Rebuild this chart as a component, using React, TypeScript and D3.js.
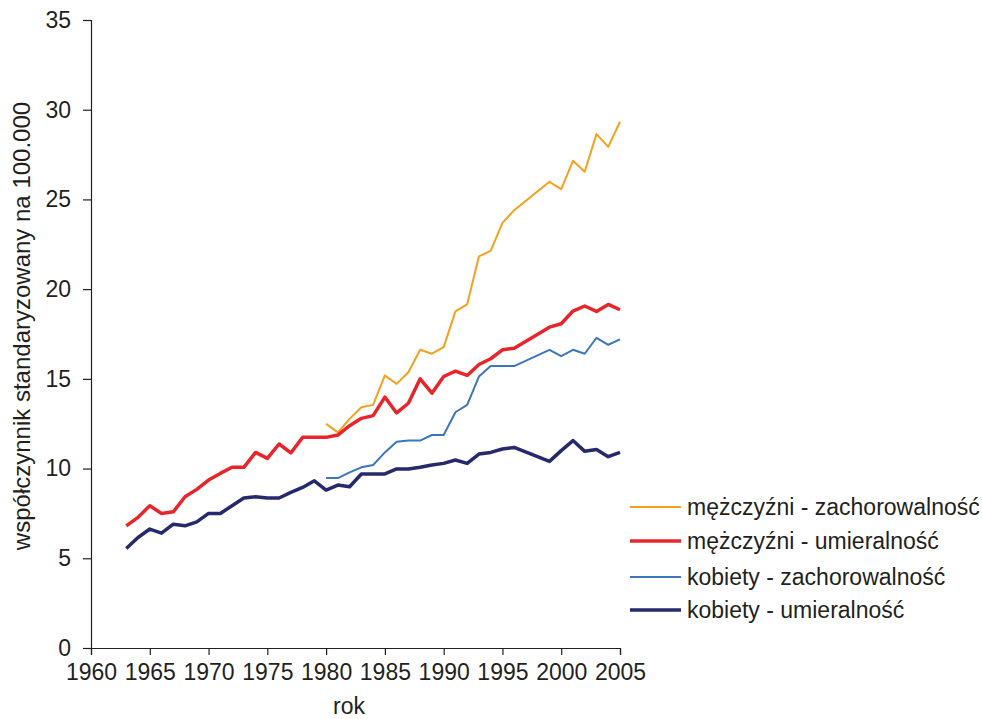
import React, { useEffect, useRef } from 'react';
import * as d3 from 'd3';

const years = d3.range(1963, 2006);

// values per year 1963..2005, null = no data
const menIncidence = [
  null, null, null, null, null, null, null, null, null, null, null, null, null, null, null, null, null,
  12.49, 12.02, 12.77, 13.42, 13.55, 15.19, 14.72, 15.37, 16.62, 16.4, 16.77, 18.76, 19.15, 21.83, 22.13,
  23.69, 24.4, null, null, 25.98, 25.57, 27.15, 26.54, 28.64, 27.93, 29.33,
];
const menMortality = [
  6.81, 7.28, 7.93, 7.5, 7.59, 8.43, 8.84, 9.36, 9.73, 10.07, 10.07, 10.9, 10.57, 11.37, 10.87, 11.74, 11.74,
  11.74, 11.87, 12.39, 12.8, 12.95, 13.98, 13.1, 13.64, 15.0, 14.2, 15.13, 15.43, 15.19, 15.8, 16.12,
  16.62, 16.71, null, null, 17.88, 18.07, 18.78, 19.06, 18.76, 19.15, 18.85,
];
const womenIncidence = [
  null, null, null, null, null, null, null, null, null, null, null, null, null, null, null, null, null,
  9.47, 9.47, 9.79, 10.07, 10.2, 10.9, 11.5, 11.56, 11.56, 11.87, 11.87, 13.14, 13.55, 15.13, 15.71,
  15.71, 15.71, null, null, 16.62, 16.27, 16.62, 16.4, 17.29, 16.9, 17.2,
];
const womenMortality = [
  5.55, 6.16, 6.63, 6.4, 6.9, 6.81, 7.03, 7.5, 7.5, 7.93, 8.36, 8.43, 8.36, 8.36, 8.67, 8.95, 9.32,
  8.8, 9.08, 8.99, 9.7, 9.7, 9.7, 9.98, 9.98, 10.07, 10.2, 10.29, 10.48, 10.29, 10.81, 10.9,
  11.09, 11.18, null, null, 10.4, 11.0, 11.56, 10.96, 11.06, 10.66, 10.9,
];

const seriesNames = [
  'mężczyźni - zachorowalność',
  'mężczyźni - umieralność',
  'kobiety - zachorowalność',
  'kobiety - umieralność',
];
const seriesValues = [menIncidence, menMortality, womenIncidence, womenMortality];
const seriesColors = ['#F6A01F', '#E8252B', '#3C76BE', '#262A6C'];
const seriesWidths = [2, 3.5, 2, 3.5];

const xTicks = d3.range(1960, 2006, 5);
const yTicks = d3.range(0, 36, 5);

const W = 982;
const H = 719;
const FONT = '"Liberation Sans", Arial, sans-serif';

export default function App() {
  const ref = useRef<SVGSVGElement>(null);

  useEffect(() => {
    const svg = d3.select(ref.current);
    svg.selectAll('*').remove();

    const x = d3.scaleLinear().domain([1960, 2005]).range([91, 620]);
    const y = d3.scaleLinear().domain([0, 35]).range([648, 20]);

    // axes
    const gx = svg.append('g').attr('transform', 'translate(0,648)');
    gx.call(d3.axisBottom(x).tickValues(xTicks).tickFormat(d3.format('d')).tickSize(7).tickPadding(9));
    const gy = svg.append('g').attr('transform', 'translate(91,0)');
    gy.call(d3.axisLeft(y).tickValues(yTicks).tickSize(8).tickPadding(12));

    [gx, gy].forEach((g) => {
      g.select('.domain').attr('stroke', '#231F20').attr('stroke-width', 1.2);
      g.selectAll('.tick line').attr('stroke', '#231F20').attr('stroke-width', 1.2);
      g.selectAll('.tick text')
        .attr('fill', '#231F20')
        .style('font-family', FONT)
        .style('font-size', '23px');
    });

    // lines
    const line = d3
      .line<[number, number]>()
      .x((d) => x(d[0]))
      .y((d) => y(d[1]))
      .curve(d3.curveLinear);

    seriesValues.forEach((vals, i) => {
      const pts = years
        .map((yr, j) => [yr, vals[j]] as [number, number | null])
        .filter((p) => p[1] != null) as [number, number][];
      svg
        .append('path')
        .datum(pts)
        .attr('fill', 'none')
        .attr('stroke', seriesColors[i])
        .attr('stroke-width', seriesWidths[i])
        .attr('stroke-linejoin', 'round')
        .attr('d', line);
    });

    // axis titles
    svg
      .append('text')
      .attr('x', 349)
      .attr('y', 714)
      .attr('text-anchor', 'middle')
      .attr('fill', '#231F20')
      .style('font-family', FONT)
      .style('font-size', '23px')
      .text('rok');

    svg
      .append('text')
      .attr('transform', 'translate(30,326) rotate(-90)')
      .attr('text-anchor', 'middle')
      .attr('fill', '#231F20')
      .style('font-family', FONT)
      .style('font-size', '24px')
      .text('współczynnik standaryzowany na 100.000');

    // legend
    const legendY = [507, 541, 577, 610];
    seriesNames.forEach((name, i) => {
      const g = svg.append('g').attr('transform', `translate(630,${legendY[i]})`);
      g.append('line')
        .attr('x1', 0)
        .attr('x2', 51)
        .attr('stroke', seriesColors[i])
        .attr('stroke-width', seriesWidths[i]);
      g.append('text')
        .attr('x', 57)
        .attr('y', 8)
        .attr('fill', '#231F20')
        .style('font-family', FONT)
        .style('font-size', '23px')
        .text(name);
    });
  }, []);

  return (
    <svg
      ref={ref}
      width={W}
      height={H}
      style={{ position: 'absolute', left: 0, top: 0, background: '#fff' }}
    />
  );
}
